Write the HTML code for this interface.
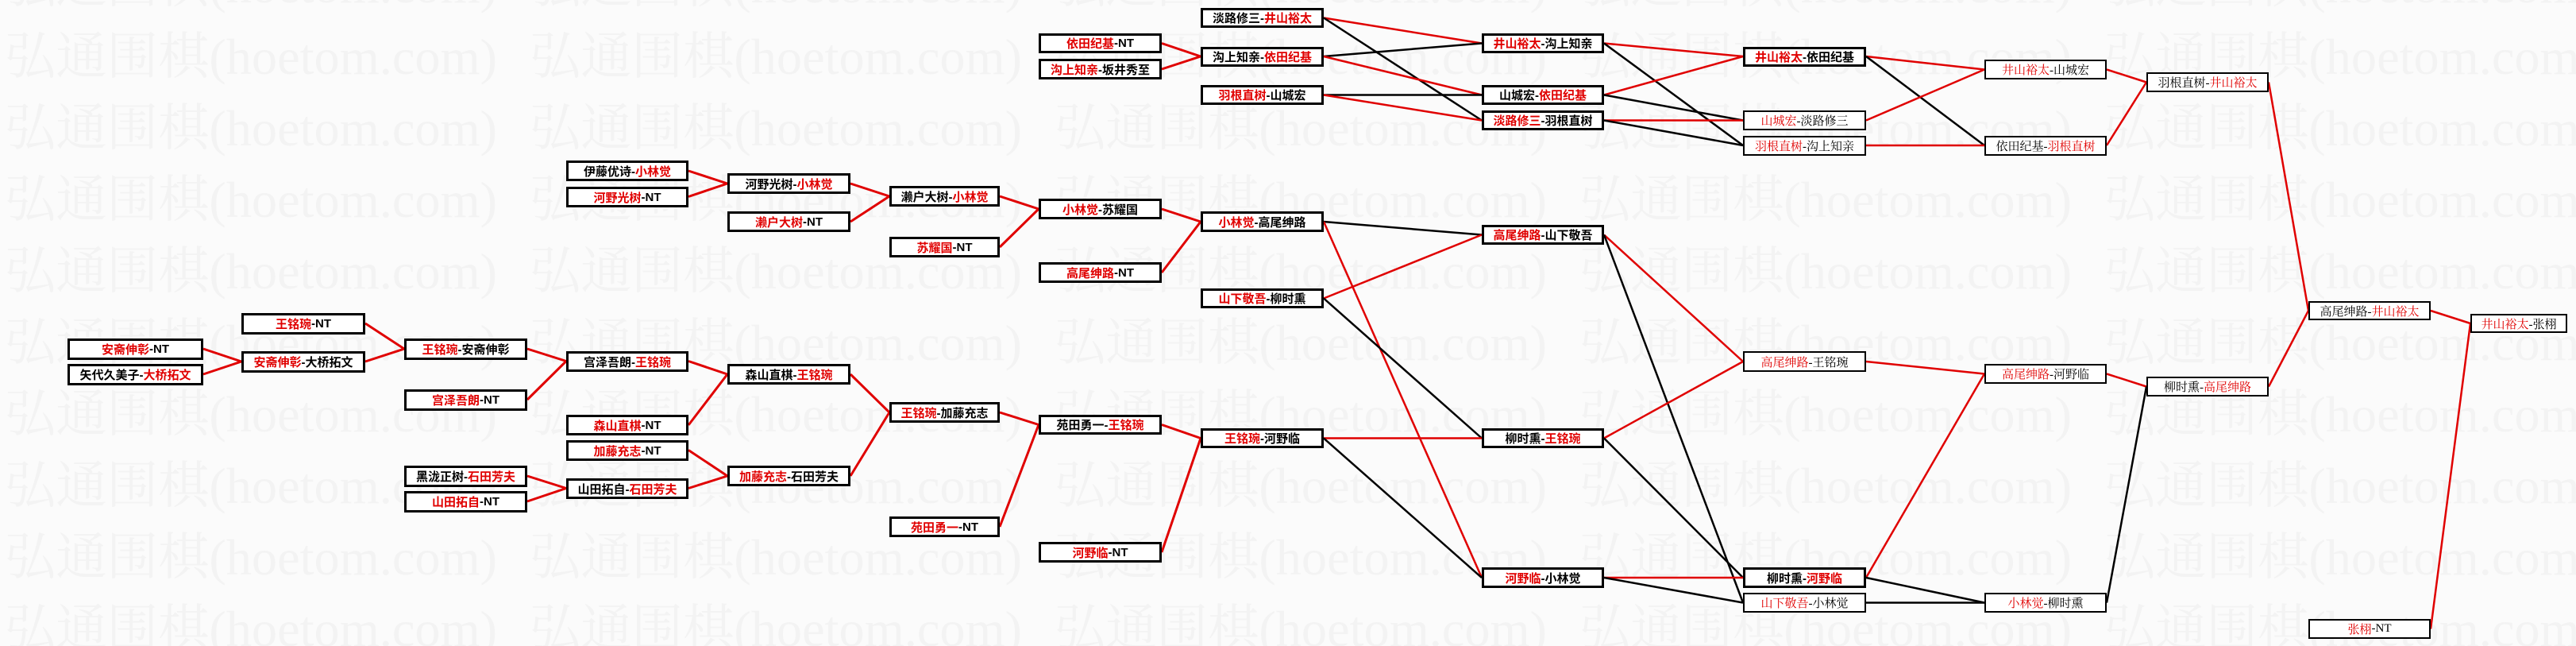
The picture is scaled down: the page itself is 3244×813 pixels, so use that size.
<!DOCTYPE html>
<html><head><meta charset="utf-8">
<style>
html,body{margin:0;padding:0;}
body{width:3244px;height:813px;position:relative;overflow:hidden;background:#fbfbfb;}
svg{position:absolute;left:0;top:0;}
.b{position:absolute;box-sizing:border-box;background:#fff;border:3px solid #000;font:bold 15px "Liberation Sans","Noto Sans CJK SC",sans-serif;color:#000;text-align:center;white-space:nowrap;display:flex;align-items:center;justify-content:center;}
.t{border-width:2px;font:15px "Liberation Serif","Noto Serif CJK SC",serif;}
.r{color:#e00000;}
</style></head><body>
<svg width="3244" height="813" xmlns="http://www.w3.org/2000/svg">
<g font-family="Liberation Serif, Noto Serif CJK SC, serif" font-size="64" fill="#f3f3f3">
<text x="6" y="3" textLength="620" lengthAdjust="spacingAndGlyphs">弘通围棋(hoetom.com)</text>
<text x="667" y="3" textLength="620" lengthAdjust="spacingAndGlyphs">弘通围棋(hoetom.com)</text>
<text x="1328" y="3" textLength="620" lengthAdjust="spacingAndGlyphs">弘通围棋(hoetom.com)</text>
<text x="1989" y="3" textLength="620" lengthAdjust="spacingAndGlyphs">弘通围棋(hoetom.com)</text>
<text x="2650" y="3" textLength="620" lengthAdjust="spacingAndGlyphs">弘通围棋(hoetom.com)</text>
<text x="6" y="93" textLength="620" lengthAdjust="spacingAndGlyphs">弘通围棋(hoetom.com)</text>
<text x="667" y="93" textLength="620" lengthAdjust="spacingAndGlyphs">弘通围棋(hoetom.com)</text>
<text x="1328" y="93" textLength="620" lengthAdjust="spacingAndGlyphs">弘通围棋(hoetom.com)</text>
<text x="1989" y="93" textLength="620" lengthAdjust="spacingAndGlyphs">弘通围棋(hoetom.com)</text>
<text x="2650" y="93" textLength="620" lengthAdjust="spacingAndGlyphs">弘通围棋(hoetom.com)</text>
<text x="6" y="183" textLength="620" lengthAdjust="spacingAndGlyphs">弘通围棋(hoetom.com)</text>
<text x="667" y="183" textLength="620" lengthAdjust="spacingAndGlyphs">弘通围棋(hoetom.com)</text>
<text x="1328" y="183" textLength="620" lengthAdjust="spacingAndGlyphs">弘通围棋(hoetom.com)</text>
<text x="1989" y="183" textLength="620" lengthAdjust="spacingAndGlyphs">弘通围棋(hoetom.com)</text>
<text x="2650" y="183" textLength="620" lengthAdjust="spacingAndGlyphs">弘通围棋(hoetom.com)</text>
<text x="6" y="273" textLength="620" lengthAdjust="spacingAndGlyphs">弘通围棋(hoetom.com)</text>
<text x="667" y="273" textLength="620" lengthAdjust="spacingAndGlyphs">弘通围棋(hoetom.com)</text>
<text x="1328" y="273" textLength="620" lengthAdjust="spacingAndGlyphs">弘通围棋(hoetom.com)</text>
<text x="1989" y="273" textLength="620" lengthAdjust="spacingAndGlyphs">弘通围棋(hoetom.com)</text>
<text x="2650" y="273" textLength="620" lengthAdjust="spacingAndGlyphs">弘通围棋(hoetom.com)</text>
<text x="6" y="363" textLength="620" lengthAdjust="spacingAndGlyphs">弘通围棋(hoetom.com)</text>
<text x="667" y="363" textLength="620" lengthAdjust="spacingAndGlyphs">弘通围棋(hoetom.com)</text>
<text x="1328" y="363" textLength="620" lengthAdjust="spacingAndGlyphs">弘通围棋(hoetom.com)</text>
<text x="1989" y="363" textLength="620" lengthAdjust="spacingAndGlyphs">弘通围棋(hoetom.com)</text>
<text x="2650" y="363" textLength="620" lengthAdjust="spacingAndGlyphs">弘通围棋(hoetom.com)</text>
<text x="6" y="453" textLength="620" lengthAdjust="spacingAndGlyphs">弘通围棋(hoetom.com)</text>
<text x="667" y="453" textLength="620" lengthAdjust="spacingAndGlyphs">弘通围棋(hoetom.com)</text>
<text x="1328" y="453" textLength="620" lengthAdjust="spacingAndGlyphs">弘通围棋(hoetom.com)</text>
<text x="1989" y="453" textLength="620" lengthAdjust="spacingAndGlyphs">弘通围棋(hoetom.com)</text>
<text x="2650" y="453" textLength="620" lengthAdjust="spacingAndGlyphs">弘通围棋(hoetom.com)</text>
<text x="6" y="543" textLength="620" lengthAdjust="spacingAndGlyphs">弘通围棋(hoetom.com)</text>
<text x="667" y="543" textLength="620" lengthAdjust="spacingAndGlyphs">弘通围棋(hoetom.com)</text>
<text x="1328" y="543" textLength="620" lengthAdjust="spacingAndGlyphs">弘通围棋(hoetom.com)</text>
<text x="1989" y="543" textLength="620" lengthAdjust="spacingAndGlyphs">弘通围棋(hoetom.com)</text>
<text x="2650" y="543" textLength="620" lengthAdjust="spacingAndGlyphs">弘通围棋(hoetom.com)</text>
<text x="6" y="633" textLength="620" lengthAdjust="spacingAndGlyphs">弘通围棋(hoetom.com)</text>
<text x="667" y="633" textLength="620" lengthAdjust="spacingAndGlyphs">弘通围棋(hoetom.com)</text>
<text x="1328" y="633" textLength="620" lengthAdjust="spacingAndGlyphs">弘通围棋(hoetom.com)</text>
<text x="1989" y="633" textLength="620" lengthAdjust="spacingAndGlyphs">弘通围棋(hoetom.com)</text>
<text x="2650" y="633" textLength="620" lengthAdjust="spacingAndGlyphs">弘通围棋(hoetom.com)</text>
<text x="6" y="723" textLength="620" lengthAdjust="spacingAndGlyphs">弘通围棋(hoetom.com)</text>
<text x="667" y="723" textLength="620" lengthAdjust="spacingAndGlyphs">弘通围棋(hoetom.com)</text>
<text x="1328" y="723" textLength="620" lengthAdjust="spacingAndGlyphs">弘通围棋(hoetom.com)</text>
<text x="1989" y="723" textLength="620" lengthAdjust="spacingAndGlyphs">弘通围棋(hoetom.com)</text>
<text x="2650" y="723" textLength="620" lengthAdjust="spacingAndGlyphs">弘通围棋(hoetom.com)</text>
<text x="6" y="813" textLength="620" lengthAdjust="spacingAndGlyphs">弘通围棋(hoetom.com)</text>
<text x="667" y="813" textLength="620" lengthAdjust="spacingAndGlyphs">弘通围棋(hoetom.com)</text>
<text x="1328" y="813" textLength="620" lengthAdjust="spacingAndGlyphs">弘通围棋(hoetom.com)</text>
<text x="1989" y="813" textLength="620" lengthAdjust="spacingAndGlyphs">弘通围棋(hoetom.com)</text>
<text x="2650" y="813" textLength="620" lengthAdjust="spacingAndGlyphs">弘通围棋(hoetom.com)</text>
</g>
<g stroke="#e00000" stroke-width="3" fill="none">
<line x1="256" y1="439" x2="304" y2="455"/><line x1="256" y1="471" x2="304" y2="455"/>
<line x1="460" y1="407" x2="509" y2="439"/><line x1="460" y1="455" x2="509" y2="439"/>
<line x1="664" y1="439" x2="713" y2="454.5"/><line x1="664" y1="503" x2="713" y2="454.5"/>
<line x1="664" y1="599" x2="713" y2="614.5"/><line x1="664" y1="631" x2="713" y2="614.5"/>
<line x1="867" y1="215" x2="916" y2="231"/><line x1="867" y1="247.5" x2="916" y2="231"/>
<line x1="867" y1="454.5" x2="916" y2="471"/><line x1="867" y1="535" x2="916" y2="471"/>
<line x1="867" y1="566.5" x2="916" y2="599"/><line x1="867" y1="614.5" x2="916" y2="599"/>
<line x1="1071" y1="231" x2="1120" y2="247"/><line x1="1071" y1="279" x2="1120" y2="247"/>
<line x1="1071" y1="471" x2="1120" y2="519"/><line x1="1071" y1="599" x2="1120" y2="519"/>
<line x1="1259" y1="247" x2="1308" y2="263"/><line x1="1259" y1="311" x2="1308" y2="263"/>
<line x1="1259" y1="519" x2="1308" y2="534.5"/><line x1="1259" y1="663" x2="1308" y2="534.5"/>
<line x1="1463" y1="54.5" x2="1512" y2="71"/><line x1="1463" y1="87" x2="1512" y2="71"/>
<line x1="1463" y1="263" x2="1512" y2="279"/><line x1="1463" y1="343" x2="1512" y2="279"/>
<line x1="1463" y1="534.5" x2="1512" y2="551.5"/><line x1="1463" y1="695" x2="1512" y2="551.5"/>
</g>
<g stroke-width="2.5" fill="none">
<line stroke="#e00000" x1="1667" y1="22.5" x2="1866" y2="54.5"/>
<line stroke="#000" x1="1667" y1="22.5" x2="1866" y2="151.5"/>
<line stroke="#000" x1="1667" y1="71" x2="1866" y2="54.5"/>
<line stroke="#e00000" x1="1667" y1="71" x2="1866" y2="119.5"/>
<line stroke="#000" x1="1667" y1="119.5" x2="1866" y2="119.5"/>
<line stroke="#e00000" x1="1667" y1="119.5" x2="1866" y2="151.5"/>
<line stroke="#000" x1="1667" y1="279" x2="1866" y2="295.5"/>
<line stroke="#e00000" x1="1667" y1="279" x2="1866" y2="727"/>
<line stroke="#e00000" x1="1667" y1="375.5" x2="1866" y2="295.5"/>
<line stroke="#000" x1="1667" y1="375.5" x2="1866" y2="551.5"/>
<line stroke="#e00000" x1="1667" y1="551.5" x2="1866" y2="551.5"/>
<line stroke="#000" x1="1667" y1="551.5" x2="1866" y2="727"/>

<line stroke="#e00000" x1="2020" y1="54.5" x2="2195" y2="71"/>
<line stroke="#000" x1="2020" y1="54.5" x2="2195" y2="183"/>
<line stroke="#e00000" x1="2020" y1="119.5" x2="2195" y2="71"/>
<line stroke="#000" x1="2020" y1="119.5" x2="2195" y2="151.5"/>
<line stroke="#e00000" x1="2020" y1="151.5" x2="2195" y2="151.5"/>
<line stroke="#000" x1="2020" y1="151.5" x2="2195" y2="183"/>
<line stroke="#e00000" x1="2020" y1="295.5" x2="2195" y2="455"/>
<line stroke="#000" x1="2020" y1="295.5" x2="2195" y2="758.5"/>
<line stroke="#e00000" x1="2020" y1="551.5" x2="2195" y2="455"/>
<line stroke="#000" x1="2020" y1="551.5" x2="2195" y2="727"/>
<line stroke="#e00000" x1="2020" y1="727" x2="2195" y2="727"/>
<line stroke="#000" x1="2020" y1="727" x2="2195" y2="758.5"/>

<line stroke="#e00000" x1="2350" y1="71" x2="2499" y2="87.5"/>
<line stroke="#000" x1="2350" y1="71" x2="2499" y2="183"/>
<line stroke="#e00000" x1="2350" y1="151.5" x2="2499" y2="87.5"/>
<line stroke="#e00000" x1="2350" y1="183" x2="2499" y2="183"/>
<line stroke="#e00000" x1="2350" y1="455" x2="2499" y2="470.5"/>
<line stroke="#e00000" x1="2350" y1="727" x2="2499" y2="470.5"/>
<line stroke="#000" x1="2350" y1="727" x2="2499" y2="758.5"/>
<line stroke="#000" x1="2350" y1="758.5" x2="2499" y2="758.5"/>

<line stroke="#e00000" x1="2653" y1="87.5" x2="2703" y2="103.5"/>
<line stroke="#e00000" x1="2653" y1="183" x2="2703" y2="103.5"/>
<line stroke="#e00000" x1="2653" y1="470.5" x2="2703" y2="486.5"/>
<line stroke="#000" x1="2653" y1="758.5" x2="2703" y2="486.5"/>
<line stroke="#e00000" x1="2857" y1="103.5" x2="2907" y2="391"/>
<line stroke="#e00000" x1="2857" y1="486.5" x2="2907" y2="391"/>
<line stroke="#e00000" x1="3061" y1="391" x2="3111" y2="407"/>
<line stroke="#e00000" x1="3061" y1="791.5" x2="3111" y2="407"/>
</g>
</svg>

<!-- C1 -->
<div class="b" style="left:85px;top:426px;width:171px;height:27px"><span class="r">安斋伸彰</span>-NT</div>
<div class="b" style="left:85px;top:458px;width:171px;height:27px">矢代久美子-<span class="r">大桥拓文</span></div>
<!-- C2 -->
<div class="b" style="left:304px;top:394px;width:156px;height:27px"><span class="r">王铭琬</span>-NT</div>
<div class="b" style="left:304px;top:442px;width:156px;height:27px"><span class="r">安斋伸彰</span>-大桥拓文</div>
<!-- C3 -->
<div class="b" style="left:509px;top:426px;width:155px;height:27px"><span class="r">王铭琬</span>-安斋伸彰</div>
<div class="b" style="left:509px;top:490px;width:155px;height:27px"><span class="r">宫泽吾朗</span>-NT</div>
<div class="b" style="left:509px;top:586px;width:155px;height:27px">黑泷正树-<span class="r">石田芳夫</span></div>
<div class="b" style="left:509px;top:618px;width:155px;height:27px"><span class="r">山田拓自</span>-NT</div>
<!-- C4 -->
<div class="b" style="left:713px;top:202px;width:154px;height:26px">伊藤优诗-<span class="r">小林觉</span></div>
<div class="b" style="left:713px;top:235px;width:154px;height:26px"><span class="r">河野光树</span>-NT</div>
<div class="b" style="left:713px;top:442px;width:154px;height:26px">宫泽吾朗-<span class="r">王铭琬</span></div>
<div class="b" style="left:713px;top:522px;width:154px;height:26px"><span class="r">森山直棋</span>-NT</div>
<div class="b" style="left:713px;top:554px;width:154px;height:26px"><span class="r">加藤充志</span>-NT</div>
<div class="b" style="left:713px;top:602px;width:154px;height:26px">山田拓自-<span class="r">石田芳夫</span></div>
<!-- C5 -->
<div class="b" style="left:916px;top:218px;width:155px;height:26px">河野光树-<span class="r">小林觉</span></div>
<div class="b" style="left:916px;top:266px;width:155px;height:26px"><span class="r">濑户大树</span>-NT</div>
<div class="b" style="left:916px;top:458px;width:155px;height:26px">森山直棋-<span class="r">王铭琬</span></div>
<div class="b" style="left:916px;top:586px;width:155px;height:26px"><span class="r">加藤充志</span>-石田芳夫</div>
<!-- C6 -->
<div class="b" style="left:1120px;top:234px;width:139px;height:26px">濑户大树-<span class="r">小林觉</span></div>
<div class="b" style="left:1120px;top:298px;width:139px;height:26px"><span class="r">苏耀国</span>-NT</div>
<div class="b" style="left:1120px;top:506px;width:139px;height:26px"><span class="r">王铭琬</span>-加藤充志</div>
<div class="b" style="left:1120px;top:650px;width:139px;height:26px"><span class="r">苑田勇一</span>-NT</div>
<!-- C7 -->
<div class="b" style="left:1308px;top:42px;width:155px;height:25px"><span class="r">依田纪基</span>-NT</div>
<div class="b" style="left:1308px;top:74px;width:155px;height:26px"><span class="r">沟上知亲</span>-坂井秀至</div>
<div class="b" style="left:1308px;top:250px;width:155px;height:26px"><span class="r">小林觉</span>-苏耀国</div>
<div class="b" style="left:1308px;top:330px;width:155px;height:26px"><span class="r">高尾绅路</span>-NT</div>
<div class="b" style="left:1308px;top:522px;width:155px;height:25px">苑田勇一-<span class="r">王铭琬</span></div>
<div class="b" style="left:1308px;top:682px;width:155px;height:26px"><span class="r">河野临</span>-NT</div>
<!-- C8 -->
<div class="b" style="left:1512px;top:10px;width:155px;height:25px">淡路修三-<span class="r">井山裕太</span></div>
<div class="b" style="left:1512px;top:59px;width:155px;height:25px">沟上知亲-<span class="r">依田纪基</span></div>
<div class="b" style="left:1512px;top:107px;width:155px;height:25px"><span class="r">羽根直树</span>-山城宏</div>
<div class="b" style="left:1512px;top:266px;width:155px;height:26px"><span class="r">小林觉</span>-高尾绅路</div>
<div class="b" style="left:1512px;top:363px;width:155px;height:25px"><span class="r">山下敬吾</span>-柳时熏</div>
<div class="b" style="left:1512px;top:539px;width:155px;height:25px"><span class="r">王铭琬</span>-河野临</div>
<!-- C9 -->
<div class="b" style="left:1866px;top:42px;width:154px;height:25px"><span class="r">井山裕太</span>-沟上知亲</div>
<div class="b" style="left:1866px;top:107px;width:154px;height:25px">山城宏-<span class="r">依田纪基</span></div>
<div class="b" style="left:1866px;top:139px;width:154px;height:25px"><span class="r">淡路修三</span>-羽根直树</div>
<div class="b" style="left:1866px;top:283px;width:154px;height:25px"><span class="r">高尾绅路</span>-山下敬吾</div>
<div class="b" style="left:1866px;top:539px;width:154px;height:25px">柳时熏-<span class="r">王铭琬</span></div>
<div class="b" style="left:1866px;top:714px;width:154px;height:26px"><span class="r">河野临</span>-小林觉</div>
<!-- C10 -->
<div class="b" style="left:2195px;top:59px;width:155px;height:25px"><span class="r">井山裕太</span>-依田纪基</div>
<div class="b t" style="left:2195px;top:139px;width:155px;height:25px"><span class="r">山城宏</span>-淡路修三</div>
<div class="b t" style="left:2195px;top:171px;width:155px;height:25px"><span class="r">羽根直树</span>-沟上知亲</div>
<div class="b t" style="left:2195px;top:442px;width:155px;height:26px"><span class="r">高尾绅路</span>-王铭琬</div>
<div class="b" style="left:2195px;top:714px;width:155px;height:26px">柳时熏-<span class="r">河野临</span></div>
<div class="b t" style="left:2195px;top:746px;width:155px;height:25px"><span class="r">山下敬吾</span>-小林觉</div>
<!-- C11 -->
<div class="b t" style="left:2499px;top:75px;width:154px;height:25px"><span class="r">井山裕太</span>-山城宏</div>
<div class="b t" style="left:2499px;top:171px;width:154px;height:25px">依田纪基-<span class="r">羽根直树</span></div>
<div class="b t" style="left:2499px;top:458px;width:154px;height:25px"><span class="r">高尾绅路</span>-河野临</div>
<div class="b t" style="left:2499px;top:746px;width:154px;height:25px"><span class="r">小林觉</span>-柳时熏</div>
<!-- C12 -->
<div class="b t" style="left:2703px;top:91px;width:154px;height:25px">羽根直树-<span class="r">井山裕太</span></div>
<div class="b t" style="left:2703px;top:474px;width:154px;height:25px">柳时熏-<span class="r">高尾绅路</span></div>
<!-- C13 -->
<div class="b t" style="left:2907px;top:379px;width:154px;height:24px">高尾绅路-<span class="r">井山裕太</span></div>
<div class="b t" style="left:2907px;top:779px;width:154px;height:25px"><span class="r">张栩</span>-NT</div>
<!-- C14 -->
<div class="b t" style="left:3111px;top:395px;width:122px;height:24px"><span class="r">井山裕太</span>-张栩</div>
</body></html>
